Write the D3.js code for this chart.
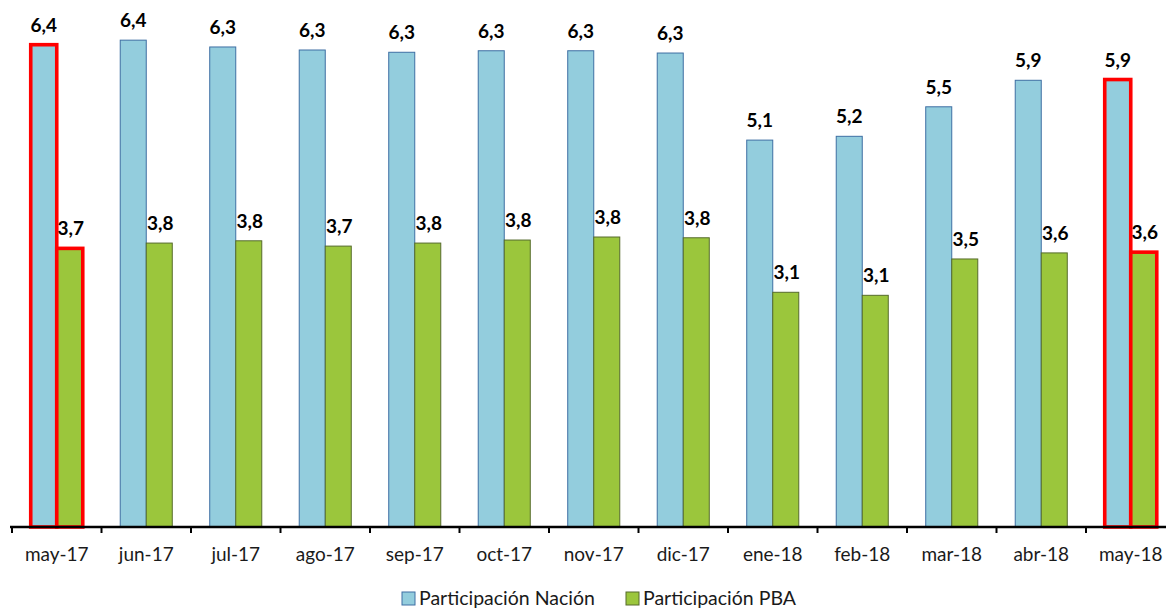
<!DOCTYPE html>
<html>
<head>
<meta charset="utf-8">
<style>
  body { margin: 0; background: #fff; }
  svg { display: block; font-family: Lato, "Open Sans", sans-serif; }
</style>
</head>
<body>
<svg id="chart" width="1166" height="610"></svg>

<script src="https://d3js.org/d3.v7.min.js"></script>
<script>
// months on the x axis
var months = ["may-17", "jun-17", "jul-17", "ago-17", "sep-17", "oct-17", "nov-17",
              "dic-17", "ene-18", "feb-18", "mar-18", "abr-18", "may-18"];
// Participación Nación
var nacion = [6.37, 6.43, 6.34, 6.30, 6.27, 6.29, 6.29, 6.26, 5.11, 5.16, 5.55, 5.90, 5.91];
// Participación PBA
var pba = [3.68, 3.75, 3.78, 3.71, 3.75, 3.79, 3.83, 3.82, 3.10, 3.06, 3.54, 3.62, 3.63];
var seriesNames = ["Participación Nación", "Participación PBA"];
// months highlighted with a red outline
var highlighted = ["may-17", "may-18"];

var svg = d3.select("#chart");

var colors = { fill: ["#93CDDD", "#9BC63C"], stroke: ["#3E6FA3", "#566B2C"] };

var x = d3.scaleBand()
    .domain(months)
    .range([12, 12 + 89.5 * months.length]);

var x1 = d3.scaleBand()
    .domain([0, 1])
    .range([0, x.bandwidth()])
    .paddingOuter(0.72)
    .paddingInner(0);

var y = d3.scaleLinear()
    .domain([0, 7])
    .range([527, -3]);

var fmt = function(v) { return d3.format(".1f")(v).replace(".", ","); };

var rows = months.map(function(m, i) { return { month: m, values: [nacion[i], pba[i]] }; });

var groups = svg.append("g")
  .selectAll("g")
  .data(rows)
  .join("g")
    .attr("transform", function(d) { return "translate(" + x(d.month) + ",0)"; });

groups.selectAll("rect")
  .data(function(d) {
    return d.values.map(function(v, k) { return { k: k, v: v, hi: highlighted.indexOf(d.month) >= 0 }; });
  })
  .join("rect")
    .attr("x", function(d) { return x1(d.k); })
    .attr("y", function(d) { return y(d.v); })
    .attr("width", x1.bandwidth())
    .attr("height", function(d) { return y(0) - y(d.v); })
    .attr("fill", function(d) { return colors.fill[d.k]; })
    .attr("stroke", function(d) { return d.hi ? "#FF0000" : colors.stroke[d.k]; })
    .attr("stroke-width", function(d) { return d.hi ? 3.6 : 1; });

groups.selectAll("text")
  .data(function(d) { return d.values.map(function(v, k) { return { k: k, v: v }; }); })
  .join("text")
    .attr("x", function(d) { return x1(d.k) + x1.bandwidth() / 2 + (d.k ? 1 : 0); })
    .attr("y", function(d) { return y(d.v) - 13; })
    .attr("text-anchor", "middle")
    .attr("font-size", 19)
    .attr("font-weight", "bold")
    .attr("fill", "#000")
    .text(function(d) { return fmt(d.v); });

// x axis
var xAxis = d3.axisBottom(x).tickSize(0).tickPadding(21);
var ax = svg.append("g")
    .attr("transform", "translate(0," + y(0) + ")")
    .call(xAxis);
ax.select(".domain").remove();
ax.selectAll("text")
    .attr("font-size", 19)
    .attr("font-family", "Lato, 'Open Sans', sans-serif")
    .attr("fill", "#1a1a1a");
ax.append("line")
    .attr("x1", 10).attr("x2", 1166)
    .attr("stroke", "#000").attr("stroke-width", 2.5);
ax.selectAll(".sep")
  .data(months)
  .join("line")
    .attr("class", "sep")
    .attr("x1", function(d) { return x(d); })
    .attr("x2", function(d) { return x(d); })
    .attr("y1", 0).attr("y2", 6)
    .attr("stroke", "#000").attr("stroke-width", 2);

// legend
var legendX = [402, 626];
var legend = svg.append("g")
  .selectAll("g")
  .data(seriesNames)
  .join("g")
    .attr("transform", function(d, i) { return "translate(" + legendX[i] + ",592)"; });
legend.append("rect")
    .attr("width", 13).attr("height", 13)
    .attr("fill", function(d, i) { return colors.fill[i]; })
    .attr("stroke", function(d, i) { return colors.stroke[i]; })
    .attr("stroke-width", 1);
legend.append("text")
    .attr("x", 17).attr("y", 13)
    .attr("font-size", 19.5)
    .attr("fill", "#1a1a1a")
    .text(function(d) { return d; });
</script>
</body>
</html>
